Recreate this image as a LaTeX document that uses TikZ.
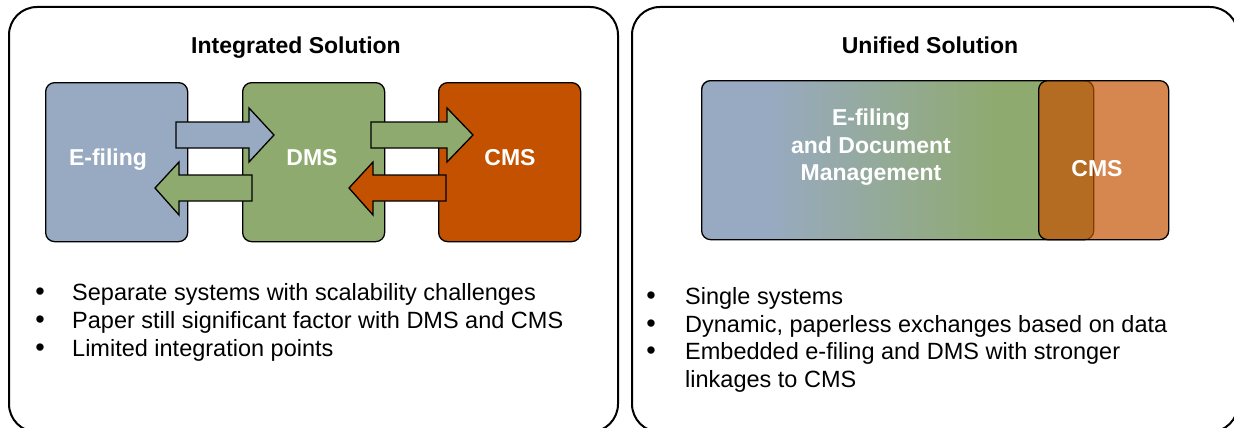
\documentclass[tikz,border=0pt]{standalone}
\usepackage{fontspec}
\setmainfont{Liberation Sans}
\definecolor{cblue}{HTML}{98AAC1}
\definecolor{cgreen}{HTML}{8FAA6E}
\definecolor{corange}{HTML}{C45100}
\begin{document}
\begin{tikzpicture}[x=1pt,y=-1pt,
  panel/.style={draw=black, line width=2pt, rounded corners=28pt, inner sep=0pt, anchor=north west},
  block/.style={draw=black, line width=1.3pt, rounded corners=9pt, inner sep=0pt, anchor=north west},
  lbl/.style={text=white, font=\fontsize{23}{27}\selectfont\bfseries, inner sep=0pt, anchor=base},
  ttl/.style={font=\fontsize{23}{27}\selectfont\bfseries, inner sep=0pt, anchor=base},
  btxt/.style={font=\fontsize{23.5}{28}\selectfont, inner sep=0pt, anchor=base west},
  bul/.style={font=\fontsize{27}{27}\selectfont, inner sep=0pt, anchor=base},
  barrow/.style={draw=black, line width=1.3pt, line join=miter}]
\useasboundingbox (0,0) rectangle (1234,428);

% panels
\node[panel, minimum width=609, minimum height=425] (leftpanel) at (8,6) {};
\node[panel, minimum width=606, minimum height=425] (rightpanel) at (631,6) {};

% titles
\node[ttl] (t1) at (296,54) {Integrated Solution};
\node[ttl] (t2) at (930,54) {Unified Solution};

% left blocks
\node[block, fill=cblue, minimum width=142, minimum height=159] (efile) at (45,82) {};
\node[block, fill=cgreen, minimum width=142, minimum height=159] (dms) at (242,82) {};
\node[block, fill=corange, minimum width=142, minimum height=159] (cms) at (438,82) {};

% block arrows
\draw[barrow, fill=cblue] (176,122) -- (249,122) -- (249,108) -- (274,135) -- (249,162) -- (249,148) -- (176,148) -- cycle;
\draw[barrow, fill=cgreen] (252,175) -- (179,175) -- (179,162) -- (155,188) -- (179,215) -- (179,201) -- (252,201) -- cycle;
\draw[barrow, fill=cgreen] (371,122) -- (447,122) -- (447,108) -- (473,135) -- (447,162) -- (447,148) -- (371,148) -- cycle;
\draw[barrow, fill=corange] (446,175) -- (373,175) -- (373,162) -- (349,188) -- (373,215) -- (373,201) -- (446,201) -- cycle;

\node[lbl] (lefile) at (108,165) {E-filing};
\node[lbl] (ldms) at (312,165) {DMS};
\node[lbl] (lcms) at (510,165) {CMS};

% right: gradient box
\begin{scope}
  \clip[rounded corners=9pt] (701,80) rectangle (1093,239);
  \fill[cblue] (700,79) rectangle (771,240);
  \shade[left color=cblue, right color=cgreen] (770,79) rectangle (1001,240);
  \fill[cgreen] (1000,79) rectangle (1094,240);
\end{scope}
\node[block, minimum width=392, minimum height=159] (edm) at (701,80) {};
\node[block, fill=corange, fill opacity=0.69, text opacity=1, minimum width=130, minimum height=159] (cms2) at (1038,80) {};

\node[lbl] (l1) at (871,125) {E-filing};
\node[lbl] (l2) at (871,153) {and Document};
\node[lbl] (l3) at (871,180) {Management};
\node[lbl] (lcms2) at (1097,176) {CMS};

% left bullets
\node[bul] (b1) at (40,300) {\textbullet};
\node[bul] (b2) at (40,328) {\textbullet};
\node[bul] (b3) at (40,356) {\textbullet};
\node[btxt] (s1) at (72,300) {Separate systems with scalability challenges};
\node[btxt] (s2) at (72,328) {Paper still significant factor with DMS and CMS};
\node[btxt] (s3) at (72,356) {Limited integration points};

% right bullets
\node[bul] (c1) at (651,304) {\textbullet};
\node[bul] (c2) at (651,332) {\textbullet};
\node[bul] (c3) at (651,359) {\textbullet};
\node[btxt] (r1) at (685,304) {Single systems};
\node[btxt] (r2) at (685,332) {Dynamic, paperless exchanges based on data};
\node[btxt] (r3) at (685,359) {Embedded e-filing and DMS with stronger};
\node[btxt] (r4) at (685,387) {linkages to CMS};
\end{tikzpicture}
\end{document}
